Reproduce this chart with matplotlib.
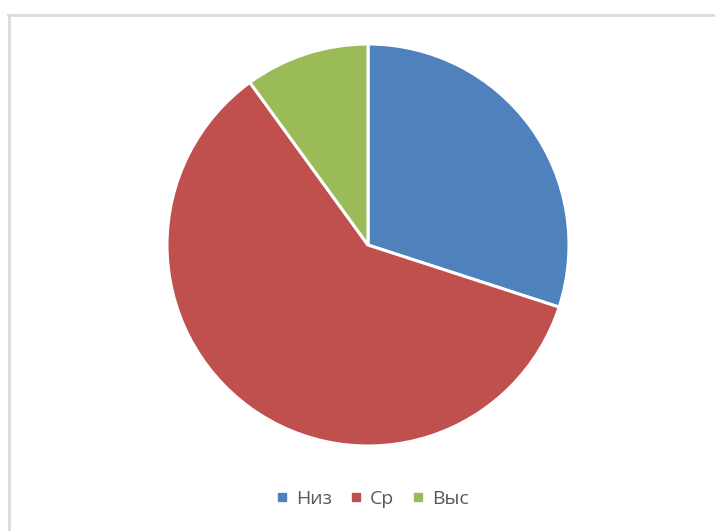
import matplotlib
matplotlib.use("Agg")
import matplotlib.pyplot as plt
from matplotlib.lines import Line2D

labels = ["Низ", "Ср", "Выс"]
values = [30, 60, 10]
colors = ["#4F81BD", "#C0504D", "#9BBB59"]

W, H = 715, 531
fig = plt.figure(figsize=(W / 100, H / 100), dpi=100)

# chart frame (only top and left edges visible in crop)
fig.add_artist(Line2D([8 / W, 1], [1 - 15 / H, 1 - 15 / H], color="#d9d9d9", lw=1.9))
fig.add_artist(Line2D([9 / W, 9 / W], [1 - 15 / H, 0], color="#d9d9d9", lw=1.9))

cx, cy, r = 368, 245, 201
ax = fig.add_axes([(cx - r) / W, 1 - (cy + r) / H, 2 * r / W, 2 * r / H])
ax.pie(values, colors=colors, startangle=90, counterclock=False,
       wedgeprops=dict(edgecolor="white", linewidth=2.2))
ax.set_xlim(-1, 1)
ax.set_ylim(-1, 1)
ax.set_aspect("equal")

handles = [Line2D([], [], marker="s", linestyle="", markersize=5.5,
                  markerfacecolor=c, markeredgecolor=c) for c in colors]
fig.legend(handles, labels, loc="center", bbox_to_anchor=(373 / W, 1 - 499 / H),
           ncol=3, frameon=False, handlelength=0.5, handletextpad=0.45,
           columnspacing=1.0, prop={"family": "Open Sans", "size": 14},
           labelcolor="#595959")

fig.savefig("out.png", dpi=100)
